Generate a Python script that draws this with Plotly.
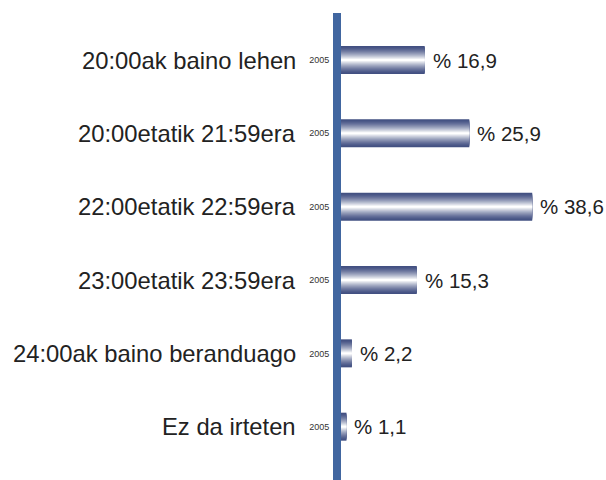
import plotly.graph_objects as go

# data
categories = ["20:00ak baino lehen", "20:00etatik 21:59era", "22:00etatik 22:59era",
              "23:00etatik 23:59era", "24:00ak baino beranduago", "Ez da irteten"]
values = [16.9, 25.9, 38.6, 15.3, 2.2, 1.1]
year_labels = ["2005"] * len(categories)

pos = list(range(len(categories)))
value_text = ["% " + ("%.1f" % v).replace(".", ",") for v in values]
FONT = "Arial, 'Liberation Sans', Helvetica, sans-serif"

fig = go.Figure()

# fake a vertical gradient on the bars by stacking narrower, lighter bars on top
dark = (66, 80, 130)
n_layers = 14
full_w = 0.382
for k in range(n_layers):
    t = (k / (n_layers - 1)) ** 1.4
    c = tuple(int(dark[i] + (255 - dark[i]) * t) for i in range(3))
    w = full_w * (1 - k / n_layers)
    fig.add_trace(go.Bar(x=values, y=pos, orientation="h", width=w,
                         marker=dict(color="rgb(%d,%d,%d)" % c, line=dict(width=0)),
                         hoverinfo="skip", showlegend=False))

for i, c in enumerate(categories):
    fig.add_annotation(x=-0.162, xref="paper", y=pos[i], yref="y", text=c,
                       showarrow=False, xanchor="right",
                       font=dict(size=23.8, color="#222222", family=FONT))
    fig.add_annotation(x=values[i], xref="x", y=pos[i], yref="y", text=value_text[i],
                       showarrow=False, xanchor="left", xshift=6,
                       font=dict(size=20.5, color="#222222", family=FONT))

fig.update_layout(
    width=606, height=480,
    margin=dict(l=341, r=0, t=13, b=0),
    barmode="overlay",
    plot_bgcolor="white", paper_bgcolor="white",
    xaxis=dict(range=[0, 53.5], visible=False),
    yaxis=dict(range=[5.727, -0.641], tickvals=pos, ticktext=year_labels,
               showline=True, linewidth=8, linecolor="#4166a0", mirror=False,
               showgrid=False, zeroline=False, ticks="", ticklabelstandoff=2,
               tickfont=dict(size=9, color="#333333", family=FONT)),
)

fig.write_html("out.html", config={"displayModeBar": False},
               post_script="document.body.style.margin='0';")
